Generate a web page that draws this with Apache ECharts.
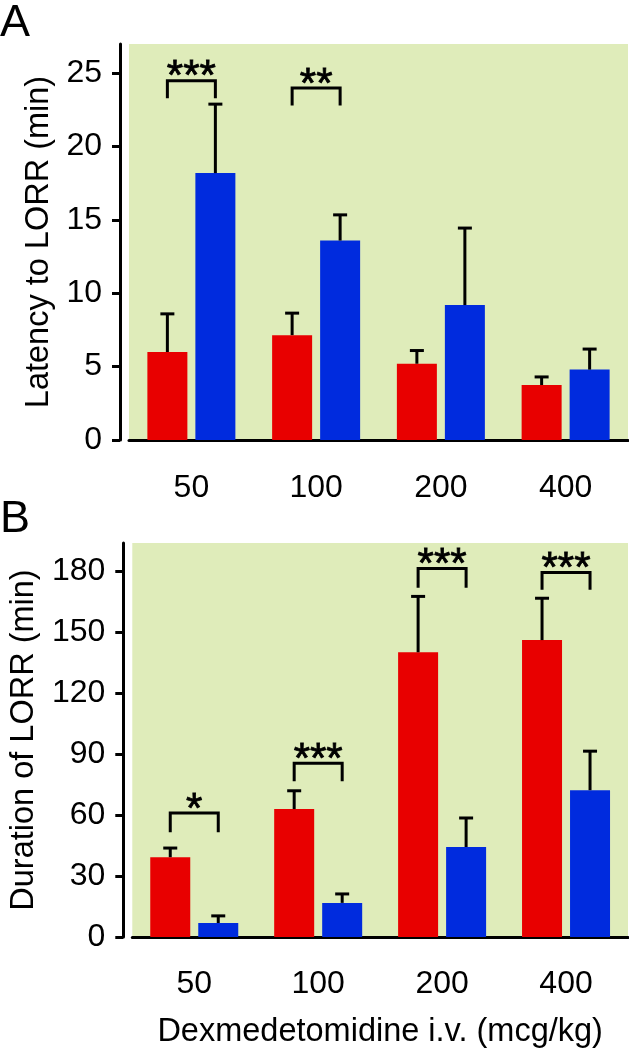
<!DOCTYPE html>
<html><head><meta charset="utf-8">
<script src="https://cdn.jsdelivr.net/npm/echarts@6/dist/echarts.min.js"></script>
<style>html,body{margin:0;padding:0;background:#fff}#c{width:629px;height:1050px}</style>
</head><body><div id="c"></div>
<script>
// ---------- data ----------
const categories = ['50', '100', '200', '400'];

// Panel A: Latency to LORR (min)
const latencyRed = [6.0, 7.15, 5.2, 3.75];
const latencyRedErrTop = [8.6, 8.65, 6.1, 4.3];
const latencyBlue = [18.2, 13.6, 9.2, 4.8];
const latencyBlueErrTop = [22.9, 15.35, 14.45, 6.2];
const latencyTicks = [0, 5, 10, 15, 20, 25];
const latencyMinorTicks = [2.5, 7.5, 12.5, 17.5, 22.5];
const latencySigCat = [0, 1];
const latencySigLabel = ['***', '**'];
const latencySigTop = [24.5, 24.0];
const latencySigLeg = [23.3, 22.8];

// Panel B: Duration of LORR (min)
const durationRed = [39.3, 63.0, 140.2, 146.2];
const durationRedErrTop = [43.8, 72.0, 167.7, 166.8];
const durationBlue = [6.9, 16.8, 44.3, 72.3];
const durationBlueErrTop = [10.4, 21.2, 58.6, 91.5];
const durationTicks = [0, 30, 60, 90, 120, 150, 180];
const durationMinorTicks = [15, 45, 75, 105, 135, 165];
const durationSigCat = [0, 1, 2, 3];
const durationSigLabel = ['*', '***', '***', '***'];
const durationSigTop = [61.0, 85.6, 181.5, 179.5];
const durationSigLeg = [51.6, 76.7, 172.0, 171.0];

// ---------- style ----------
const FONT = '"Liberation Sans", Arial, Helvetica, sans-serif';
const RED = '#e80000', BLUE = '#002bde', GREEN = '#dfecba';
const BAR_W = 40, BAR_GAP = 8;
const OFF = (BAR_W + BAR_GAP) / 2;

const chart = echarts.init(document.getElementById('c'), null, {renderer: 'canvas'});

function errRender(side) {
  return function (params, api) {
    const i = api.value(0);
    const p0 = api.coord([i, api.value(1)]);
    const p1 = api.coord([i, api.value(2)]);
    const x = p0[0] + side * OFF;
    return {type: 'group', children: [
      {type: 'line', shape: {x1: x, y1: p0[1], x2: x, y2: p1[1]}, style: {stroke: '#000', lineWidth: 3}},
      {type: 'line', shape: {x1: x - 7, y1: p1[1], x2: x + 7, y2: p1[1]}, style: {stroke: '#000', lineWidth: 3}}
    ]};
  };
}
function sigRender(labels) {
  return function (params, api) {
    const i = api.value(0);
    const pt = api.coord([i, api.value(1)]);
    const pl = api.coord([i, api.value(2)]);
    const xl = pt[0] - OFF, xr = pt[0] + OFF;
    return {type: 'group', children: [
      {type: 'polyline', shape: {points: [[xl, pl[1]], [xl, pt[1]], [xr, pt[1]], [xr, pl[1]]]},
        style: {stroke: '#000', lineWidth: 3, fill: null}},
      {type: 'text', x: pt[0], y: pt[1] - 3,
        style: {text: labels[params.dataIndex], fontSize: 42, fontFamily: FONT, fill: '#000',
          stroke: '#000', lineWidth: 0.8,
          align: 'center', verticalAlign: 'middle'}}
    ]};
  };
}

function xAxisCfg(gi, margin, name) {
  return {
    type: 'category', gridIndex: gi, data: categories, offset: 8,
    axisLine: {lineStyle: {color: '#000', width: 3}},
    axisTick: {alignWithLabel: true, length: 10, lineStyle: {color: '#000', width: 3}},
    axisLabel: {color: '#000', fontSize: 32, fontFamily: FONT, margin: margin},
    splitLine: {show: false},
    name: name || '', nameLocation: 'middle', nameGap: 71,
    nameTextStyle: {color: '#000', fontSize: 32.5, fontFamily: FONT}
  };
}
function yAxisCfg(gi, max, ticks, name) {
  return {
    type: 'value', gridIndex: gi, min: 0, max: max, offset: 9,
    axisLine: {show: true, lineStyle: {color: '#000', width: 3}},
    axisTick: {show: true, length: 8, customValues: ticks, lineStyle: {color: '#000', width: 3}},
    axisLabel: {color: '#000', fontSize: 32, fontFamily: FONT, margin: 18, customValues: ticks},
    splitLine: {show: false},
    name: name, nameLocation: 'middle', nameGap: 63,
    nameTextStyle: {color: '#000', fontSize: 32.5, fontFamily: FONT}
  };
}
function yMinorCfg(gi, max, minor) {
  return {
    type: 'value', gridIndex: gi, min: 0, max: max, offset: 9,
    axisLine: {show: false},
    axisTick: {show: true, length: 4, customValues: minor, lineStyle: {color: '#000', width: 3}},
    axisLabel: {show: false},
    splitLine: {show: false}
  };
}
function pairs(a, b) { return categories.map((c, i) => [i, a[i], b[i]]); }
function sigData(cats, tops, legs) { return cats.map((c, k) => [c, tops[k], legs[k]]); }

const option = {
  animation: false,
  backgroundColor: '#fff',
  grid: [
    {left: 129, width: 499, top: 44, height: 396, show: true, backgroundColor: GREEN, borderWidth: 0},
    {left: 129, width: 499, top: 543, height: 394, show: true, backgroundColor: GREEN, borderWidth: 0}
  ],
  xAxis: [xAxisCfg(0, 24), xAxisCfg(1, 23, 'Dexmedetomidine i.v. (mcg/kg)')],
  yAxis: [
    yAxisCfg(0, 27, latencyTicks, 'Latency to LORR (min)'),
    yMinorCfg(0, 27, latencyMinorTicks),
    yAxisCfg(1, 194, durationTicks, 'Duration of LORR (min)'),
    yMinorCfg(1, 194, durationMinorTicks)
  ],
  graphic: [
    {type: 'text', left: 0, top: 1, style: {text: 'A', fontSize: 45, fontFamily: FONT, fill: '#000'}},
    {type: 'text', left: 0, top: 497, style: {text: 'B', fontSize: 45, fontFamily: FONT, fill: '#000'}}
  ],
  series: [
    {type: 'bar', xAxisIndex: 0, yAxisIndex: 0, data: latencyRed, barWidth: BAR_W, barGap: '20%', itemStyle: {color: RED}},
    {type: 'bar', xAxisIndex: 0, yAxisIndex: 0, data: latencyBlue, barWidth: BAR_W, barGap: '20%', itemStyle: {color: BLUE}},
    {type: 'custom', xAxisIndex: 0, yAxisIndex: 0, renderItem: errRender(-1), data: pairs(latencyRed, latencyRedErrTop), z: 5},
    {type: 'custom', xAxisIndex: 0, yAxisIndex: 0, renderItem: errRender(1), data: pairs(latencyBlue, latencyBlueErrTop), z: 5},
    {type: 'custom', xAxisIndex: 0, yAxisIndex: 0, renderItem: sigRender(latencySigLabel), data: sigData(latencySigCat, latencySigTop, latencySigLeg), z: 6},

    {type: 'bar', xAxisIndex: 1, yAxisIndex: 2, data: durationRed, barWidth: BAR_W, barGap: '20%', itemStyle: {color: RED}},
    {type: 'bar', xAxisIndex: 1, yAxisIndex: 2, data: durationBlue, barWidth: BAR_W, barGap: '20%', itemStyle: {color: BLUE}},
    {type: 'custom', xAxisIndex: 1, yAxisIndex: 2, renderItem: errRender(-1), data: pairs(durationRed, durationRedErrTop), z: 5},
    {type: 'custom', xAxisIndex: 1, yAxisIndex: 2, renderItem: errRender(1), data: pairs(durationBlue, durationBlueErrTop), z: 5},
    {type: 'custom', xAxisIndex: 1, yAxisIndex: 2, renderItem: sigRender(durationSigLabel), data: sigData(durationSigCat, durationSigTop, durationSigLeg), z: 6}
  ]
};
chart.setOption(option);
</script></body></html>
